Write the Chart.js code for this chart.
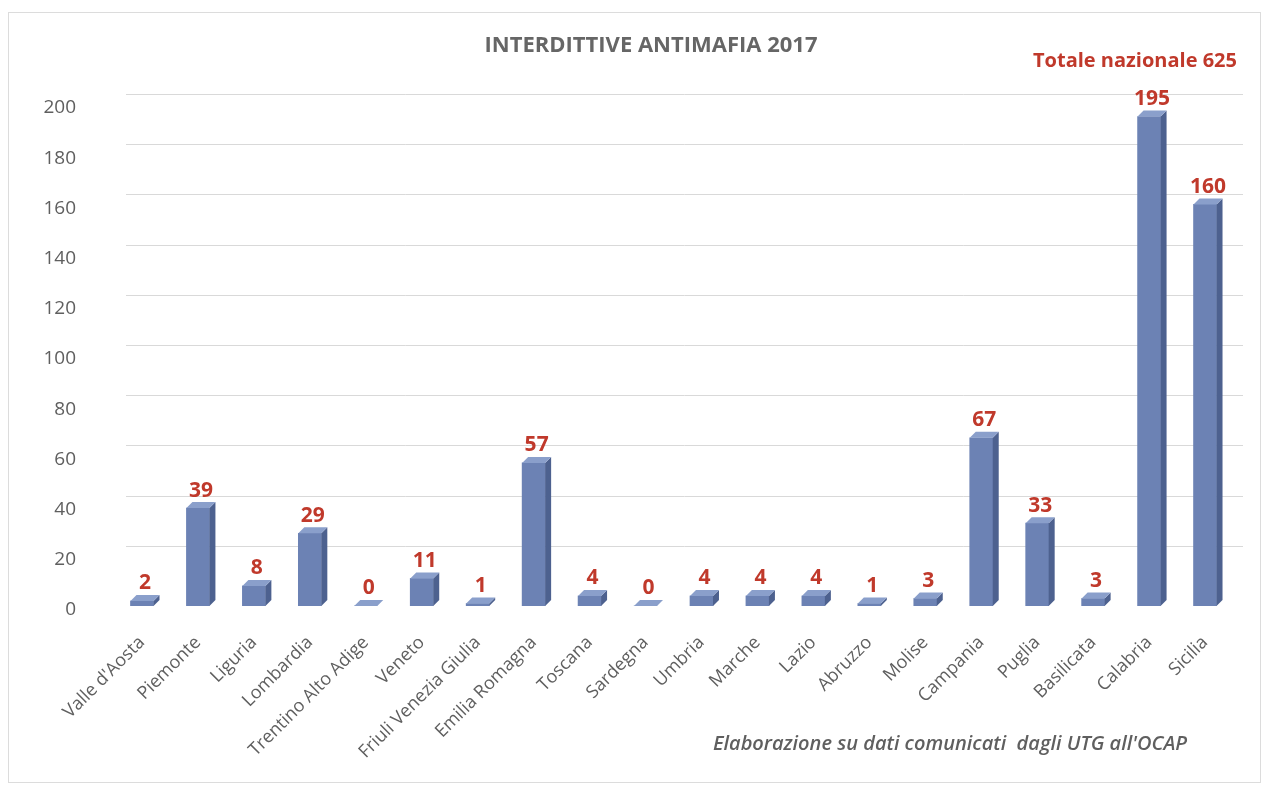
<!DOCTYPE html>
<html>
<head>
<meta charset="utf-8">
<script src="https://cdn.jsdelivr.net/npm/chart.js@4"></script>
<style>
  html, body { margin: 0; padding: 0; background: #fff; }
  #wrap { width: 1269px; height: 792px; }
</style>
</head>
<body>
<div id="wrap"><canvas id="myChart"></canvas></div>
<script>
const regions = ["Valle d'Aosta", "Piemonte", "Liguria", "Lombardia", "Trentino Alto Adige", "Veneto",
  "Friuli Venezia Giulia", "Emilia Romagna", "Toscana", "Sardegna", "Umbria", "Marche", "Lazio",
  "Abruzzo", "Molise", "Campania", "Puglia", "Basilicata", "Calabria", "Sicilia"];
const interdittive = [2, 39, 8, 29, 0, 11, 1, 57, 4, 0, 4, 4, 4, 1, 3, 67, 33, 3, 195, 160];
const yTicks = [0, 20, 40, 60, 80, 100, 120, 140, 160, 180, 200];
const titleText = "INTERDITTIVE ANTIMAFIA 2017";
const totalText = "Totale nazionale 625";
const sourceText = "Elaborazione su dati comunicati  dagli UTG all'OCAP";

const grey = "#5f5f5f";
const red = "#c0392b";
const depth = 6;

// fake 3d: back gridlines, bar side + top faces, value labels
const bar3d = {
  id: "bar3d",
  beforeDraw(chart) {
    const { ctx } = chart;
    ctx.save();
    ctx.fillStyle = "#fff";
    ctx.fillRect(0, 0, chart.width, chart.height);
    ctx.strokeStyle = "#dcdcdc";
    ctx.lineWidth = 1;
    ctx.strokeRect(8.5, 12.5, 1252, 770);
    ctx.restore();
  },
  beforeDatasetsDraw(chart) {
    const { ctx, scales: { y }, chartArea } = chart;
    ctx.save();
    ctx.strokeStyle = "#d9d9d9";
    ctx.lineWidth = 1;
    yTicks.forEach(v => {
      if (v === 0) return;
      const py = Math.round(y.getPixelForValue(v) - 10) + 0.5;
      ctx.beginPath();
      ctx.moveTo(chartArea.left + 12, py);
      ctx.lineTo(chartArea.right + 10, py);
      ctx.stroke();
    });
    ctx.restore();
  },
  afterDatasetsDraw(chart) {
    const { ctx } = chart;
    const meta = chart.getDatasetMeta(0);
    ctx.save();
    meta.data.forEach((bar, i) => {
      const { x, y, base, width } = bar.getProps(["x", "y", "base", "width"], true);
      const l = x - width / 2, r = x + width / 2;
      // side
      ctx.fillStyle = "#4d618f";
      ctx.beginPath();
      ctx.moveTo(r, y);
      ctx.lineTo(r + depth, y - depth);
      ctx.lineTo(r + depth, base - depth);
      ctx.lineTo(r, base);
      ctx.closePath();
      ctx.fill();
      // top
      ctx.fillStyle = "#8a9fcb";
      ctx.beginPath();
      ctx.moveTo(l, y);
      ctx.lineTo(l + depth, y - depth);
      ctx.lineTo(r + depth, y - depth);
      ctx.lineTo(r, y);
      ctx.closePath();
      ctx.fill();
      // value
      ctx.fillStyle = red;
      ctx.font = "bold 21px 'Open Sans'";
      ctx.textAlign = "center";
      ctx.textBaseline = "bottom";
      ctx.fillText(String(interdittive[i]), x + depth / 2, y - depth - 1);
    });
    ctx.restore();
  },
  afterDraw(chart) {
    const { ctx } = chart;
    ctx.save();
    ctx.textAlign = "center";
    ctx.textBaseline = "middle";
    ctx.fillStyle = "#666";
    ctx.font = "bold 22px 'Open Sans'";
    ctx.fillText(titleText, 651, 46);
    ctx.fillStyle = red;
    ctx.font = "bold 20px 'Open Sans'";
    ctx.fillText(totalText, 1135, 61);
    ctx.fillStyle = grey;
    ctx.font = "italic 600 20px 'Open Sans'";
    ctx.fillText(sourceText, 950, 744);
    ctx.restore();
  }
};

new Chart(document.getElementById("myChart").getContext("2d"), {
  type: "bar",
  data: {
    labels: regions,
    datasets: [{
      label: "Interdittive",
      data: interdittive,
      backgroundColor: "#6c82b4",
      borderWidth: 0,
      barThickness: 23
    }]
  },
  options: {
    responsive: true,
    maintainAspectRatio: false,
    animation: false,
    layout: { padding: { top: 104, right: 36, left: 0, bottom: 0 } },
    plugins: {
      legend: { display: false },
      tooltip: { enabled: false }
    },
    scales: {
      x: {
        grid: { display: false },
        border: { display: false },
        ticks: {
          color: grey,
          font: { family: "Open Sans", size: 18 },
          minRotation: 45,
          maxRotation: 45,
          autoSkip: false,
          padding: 18
        },
        afterFit(scale) { scale.height = 186; }
      },
      y: {
        min: 0,
        max: 200,
        grid: { display: false },
        border: { display: false },
        ticks: {
          stepSize: 20,
          color: grey,
          font: { family: "Open Sans", size: 19 },
          padding: 30,
          labelOffset: 4
        },
        afterFit(scale) { scale.width = 114; }
      }
    }
  },
  plugins: [bar3d]
});
</script>
</body>
</html>
